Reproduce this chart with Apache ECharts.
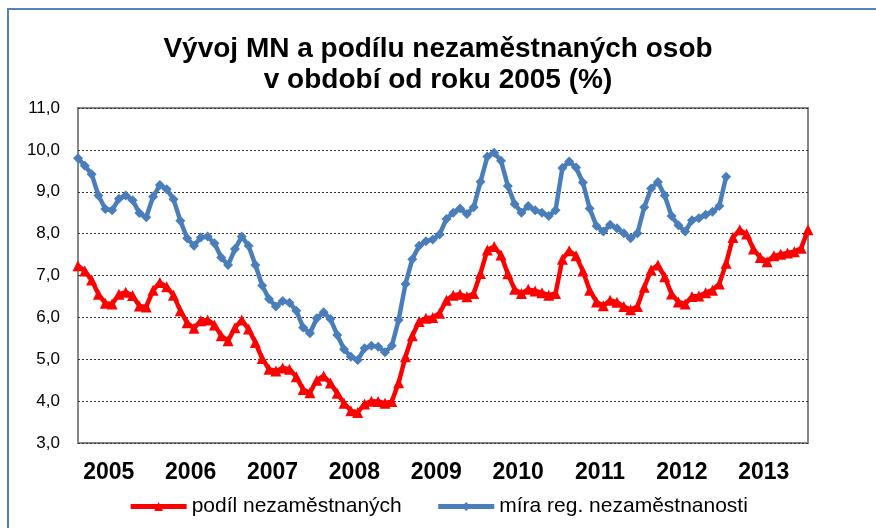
<!DOCTYPE html>
<html>
<head>
<meta charset="utf-8">
<script src="https://cdn.jsdelivr.net/npm/echarts@6/dist/echarts.min.js"></script>
<style>
  html, body { margin: 0; padding: 0; background: #fff; }
  #chart { width: 876px; height: 528px; }
</style>
</head>
<body>
<div id="chart"></div>
<script>
// roky na ose x
const years = ['2005', '2006', '2007', '2008', '2009', '2010', '2011', '2012', '2013'];
// tick labels of y axis
const yTicks = ['3,0', '4,0', '5,0', '6,0', '7,0', '8,0', '9,0', '10,0', '11,0'];

// podíl nezaměstnaných osob (1/2005 - 12/2013)
const podil = [
  7.23, 7.11, 6.89, 6.55, 6.34, 6.32, 6.55, 6.60, 6.52, 6.27, 6.25, 6.65,
  6.83, 6.73, 6.53, 6.16, 5.87, 5.74, 5.92, 5.94, 5.82, 5.56, 5.44, 5.75,
  5.94, 5.72, 5.40, 5.02, 4.76, 4.72, 4.79, 4.76, 4.58, 4.28, 4.20, 4.50,
  4.60, 4.43, 4.19, 3.95, 3.77, 3.73, 3.93, 4.00, 3.99, 3.95, 3.99, 4.44,
  5.06, 5.56, 5.90, 5.98, 6.00, 6.10, 6.41, 6.53, 6.55, 6.49, 6.57, 7.05,
  7.61, 7.69, 7.49, 7.04, 6.67, 6.57, 6.67, 6.63, 6.59, 6.53, 6.57, 7.39,
  7.59, 7.47, 7.11, 6.65, 6.37, 6.28, 6.41, 6.36, 6.26, 6.18, 6.26, 6.72,
  7.13, 7.25, 6.97, 6.56, 6.37, 6.32, 6.50, 6.51, 6.59, 6.65, 6.80, 7.29,
  7.91, 8.09, 7.99, 7.63, 7.43, 7.33, 7.47, 7.51, 7.54, 7.57, 7.65, 8.09
];

// míra registrované nezaměstnanosti (1/2005 - 12/2012)
const mira = [
  9.80, 9.62, 9.42, 8.91, 8.59, 8.56, 8.83, 8.91, 8.80, 8.49, 8.39, 8.88,
  9.16, 9.06, 8.82, 8.31, 7.89, 7.71, 7.91, 7.93, 7.77, 7.43, 7.25, 7.63,
  7.93, 7.71, 7.25, 6.76, 6.44, 6.26, 6.39, 6.35, 6.16, 5.76, 5.62, 5.98,
  6.12, 5.96, 5.58, 5.24, 5.06, 4.98, 5.26, 5.32, 5.30, 5.17, 5.32, 5.94,
  6.80, 7.39, 7.71, 7.82, 7.86, 7.98, 8.35, 8.50, 8.60, 8.47, 8.63, 9.24,
  9.84, 9.93, 9.74, 9.14, 8.71, 8.50, 8.66, 8.56, 8.50, 8.42, 8.56, 9.57,
  9.72, 9.58, 9.22, 8.60, 8.18, 8.05, 8.21, 8.13, 8.01, 7.89, 8.01, 8.63,
  9.08, 9.23, 8.91, 8.42, 8.20, 8.05, 8.32, 8.37, 8.45, 8.52, 8.66, 9.36
];

const months = [];
years.forEach(y => {
  for (let m = 1; m <= 12; m++) months.push(y + '-' + (m < 10 ? '0' + m : m));
});

const font = 'Liberation Sans, Arial, sans-serif';

const myChart = echarts.init(document.getElementById('chart'));
const option = {
  backgroundColor: '#fff',
  animation: false,
  title: {
    text: 'Vývoj MN a podílu nezaměstnaných osob\nv období od roku 2005 (%)',
    left: 'center',
    top: 29,
    textStyle: {
      fontFamily: font,
      fontSize: 28,
      fontWeight: 'bold',
      color: '#000',
      lineHeight: 31,
    },
  },
  legend: {
    bottom: 6,
    left: 'center',
    itemWidth: 56,
    itemHeight: 11,
    itemGap: 34,
    lineStyle: { width: 5 },
    textStyle: { fontFamily: font, fontSize: 21, color: '#000' },
    data: ['podíl nezaměstnaných', 'míra reg. nezaměstnanosti'],
  },
  grid: {
    left: 78,
    right: 68,
    top: 108,
    bottom: 85,
    show: true,
    borderColor: '#878787',
    borderWidth: 2,
  },
  xAxis: {
    type: 'category',
    data: months,
    boundaryGap: false,
    axisLine: { show: false },
    axisTick: { show: false },
    axisLabel: {
      interval: (idx) => idx % 12 === 4,
      margin: 18,
      formatter: (val) => '{y|' + val.slice(0, 4) + '}',
      rich: {
        y: {
          fontFamily: font,
          fontSize: 23,
          fontWeight: 'bold',
          color: '#000',
          padding: [0, 0, 0, 7],
        },
      },
    },
  },
  yAxis: {
    type: 'value',
    min: 3,
    max: 11,
    interval: 1,
    axisLine: { show: false },
    axisTick: { show: false },
    axisLabel: {
      margin: 18,
      fontFamily: font,
      fontSize: 17,
      color: '#000',
      formatter: (v) => yTicks[Math.round(v) - 3],
    },
    splitLine: {
      lineStyle: { type: [2, 2], color: '#333', width: 1 },
    },
  },
  graphic: [
    {
      type: 'polyline',
      shape: { points: [[8, 528], [8, 9], [876, 9]] },
      style: { stroke: '#4f81bd', lineWidth: 2, fill: null },
      silent: true,
    },
  ],
  series: [
    {
      name: 'podíl nezaměstnaných',
      type: 'line',
      data: podil,
      showAllSymbol: true,
      symbol: 'triangle',
      symbolSize: 11,
      color: '#ff0000',
      lineStyle: { width: 4.5, color: '#ff0000' },
      itemStyle: { color: '#ff0000' },
      z: 3,
    },
    {
      name: 'míra reg. nezaměstnanosti',
      type: 'line',
      data: mira,
      showAllSymbol: true,
      symbol: 'diamond',
      symbolSize: 10,
      color: '#4a7ebb',
      lineStyle: { width: 4.5, color: '#4a7ebb' },
      itemStyle: { color: '#4a7ebb' },
      z: 3,
    },
  ],
};
myChart.setOption(option);
</script>
</body>
</html>
